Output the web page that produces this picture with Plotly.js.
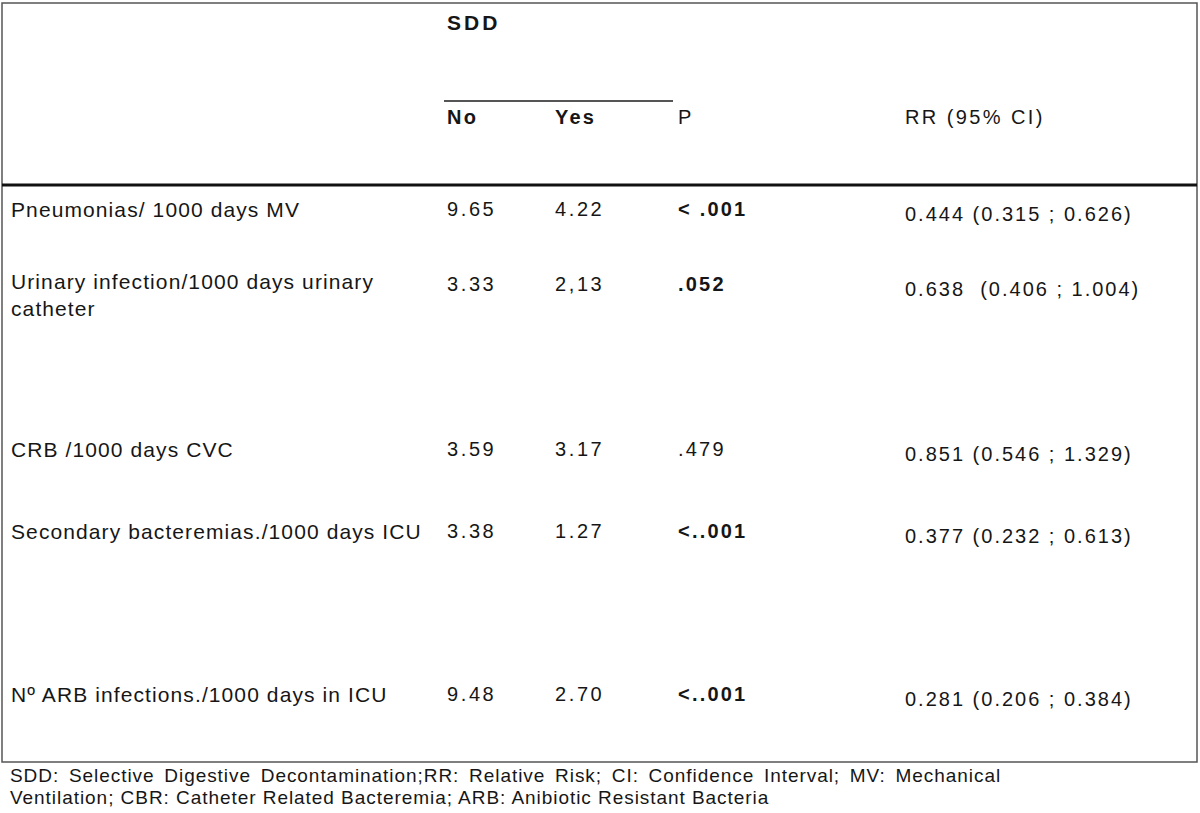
<!DOCTYPE html>
<html>
<head>
<meta charset="utf-8">
<script src="https://cdn.plot.ly/plotly-3.0.1.min.js"></script>
<style>
  html, body { margin: 0; padding: 0; background: #fff; }
  #myDiv { width: 1200px; height: 813px; }
</style>
</head>
<body>
<div id="myDiv"></div>
<script>
// table content
var outcomes = [
    'Pneumonias/ 1000 days MV',
    'Urinary infection/1000 days urinary<br>catheter',
    'CRB /1000 days CVC',
    'Secondary bacteremias./1000 days ICU',
    'N\u00ba ARB infections./1000 days in ICU'
];
var sddNo = ['9.65', '3.33', '3.59', '3.38', '9.48'];
var sddYes = ['4.22', '2,13', '3.17', '1.27', '2.70'];
var pValues = ['< .001', '.052', '.479', '<..001', '<..001'];
var pBold = [true, true, false, true, true];
var rrCI = [
    '0.444 (0.315 ; 0.626)',
    '0.638 \u00a0(0.406 ; 1.004)',
    '0.851 (0.546 ; 1.329)',
    '0.377 (0.232 ; 0.613)',
    '0.281 (0.206 ; 0.384)'
];
var headers = ['No', 'Yes', 'P', 'RR (95% CI)'];
var footnote = [
    'SDD: Selective Digestive Decontamination;RR: Relative Risk; CI: Confidence Interval; MV: Mechanical',
    'Ventilation; CBR: Catheter Related Bacteremia; ARB: Anibiotic Resistant Bacteria'
];

// layout of the table (pixels, y grows downward)
var colX = {label: 9, no: 445, yes: 553, p: 676, rr: 903};
var rowY = [209, 284, 449, 531, 694];
var rrShift = 5;
var lineH = 22;
var textColor = '#161616';
var font = 'Liberation Sans, Arial, sans-serif';

var annotations = [];
var spacing = [];   // [letter-spacing, word-spacing] per annotation
function addText(x, y, text, size, ls, ws) {
    annotations.push({
        x: x, y: y, xref: 'x', yref: 'y',
        text: text, showarrow: false,
        xanchor: 'left', yanchor: 'middle', align: 'left',
        font: {family: font, size: size, color: textColor}
    });
    spacing.push([ls || 0, ws || 0]);
}

addText(colX.no, 22, '<b>SDD</b>', 21, 3);
addText(colX.no, 117, '<b>' + headers[0] + '</b>', 20, 2.2);
addText(colX.yes, 117, '<b>' + headers[1] + '</b>', 20, 2.2);
addText(colX.p, 117, headers[2], 20, 2.2);
addText(colX.rr, 117, headers[3], 20, 2.4);

for (var i = 0; i < outcomes.length; i++) {
    var nLines = outcomes[i].split('<br>').length;
    addText(colX.label, rowY[i] + (nLines - 1) * lineH / 2, outcomes[i], 21, 1.1);
    addText(colX.no, rowY[i], sddNo[i], 20, 2.6);
    addText(colX.yes, rowY[i], sddYes[i], 20, 2.6);
    addText(colX.p, rowY[i], pBold[i] ? '<b>' + pValues[i] + '</b>' : pValues[i], 20, 2.2);
    addText(colX.rr, rowY[i] + rrShift, rrCI[i], 20, 2);
}

addText(8, 775, footnote[0], 19, 0.95, 3.5);
addText(8, 797, footnote[1], 19, 0.95, 0);

var shapes = [
    // outer frame
    {type: 'rect', xref: 'x', yref: 'y', x0: 2, x1: 1197, y0: 3, y1: 762,
     line: {color: '#555', width: 1.5}},
    // rule under SDD
    {type: 'line', xref: 'x', yref: 'y', x0: 444, x1: 673, y0: 101, y1: 101,
     line: {color: '#555', width: 2}},
    // heavy rule under the header
    {type: 'line', xref: 'x', yref: 'y', x0: 2, x1: 1197, y0: 185, y1: 185,
     line: {color: '#111', width: 3}}
];

var layout = {
    width: 1200, height: 813,
    margin: {l: 0, r: 0, t: 0, b: 0},
    paper_bgcolor: '#fff', plot_bgcolor: '#fff',
    showlegend: false,
    xaxis: {range: [0, 1200], visible: false, fixedrange: true},
    yaxis: {range: [813, 0], visible: false, fixedrange: true},
    annotations: annotations,
    shapes: shapes
};

Plotly.newPlot('myDiv', [{x: [], y: [], type: 'scatter'}], layout, {staticPlot: true}).then(function (gd) {
    // the scanned table is set a bit wider than plain Arial, so open up the tracking
    gd.querySelectorAll('g.annotation').forEach(function (g) {
        var k = +g.getAttribute('data-index');
        var t = g.querySelector('text.annotation-text');
        if (!t || !spacing[k]) return;
        t.style.letterSpacing = spacing[k][0] + 'px';
        t.style.wordSpacing = spacing[k][1] + 'px';
    });
});
</script>
</body>
</html>
